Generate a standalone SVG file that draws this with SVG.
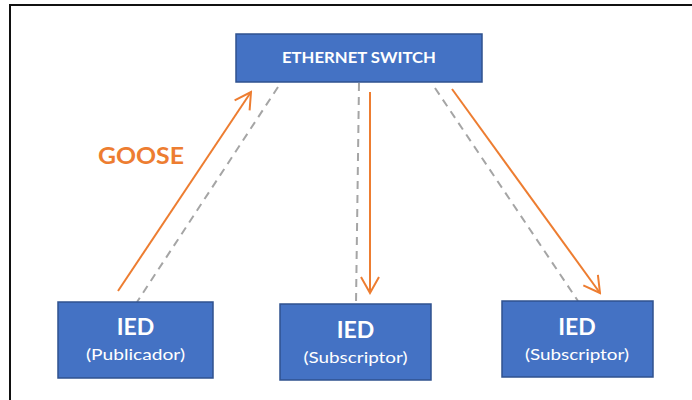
<svg xmlns="http://www.w3.org/2000/svg" width="692" height="400" viewBox="0 0 692 400">
<style>
.box{fill:#4472C4;stroke:#2F528F;stroke-width:1.5}
.t{font-family:Lato,"Open Sans","Liberation Sans",sans-serif;fill:#fff;text-anchor:middle}
.big{font-size:23px;font-weight:bold}
.small{font-size:16px}
.dash{stroke:#A5A5A5;stroke-width:2;stroke-dasharray:8,6;fill:none}
.arr{stroke:#ED7D31;stroke-width:2;fill:none;marker-end:url(#ah)}
</style>
<defs>
<marker id="ah" viewBox="0 0 20 20" refX="18" refY="10" markerWidth="20" markerHeight="20" markerUnits="userSpaceOnUse" orient="auto">
<path d="M2,1 L18,10 L2,19" fill="none" stroke="#ED7D31" stroke-width="2"/>
</marker>
</defs>
<rect width="692" height="400" fill="#fff"/>
<path d="M10,400 V5 H692" fill="none" stroke="#111" stroke-width="2"/>
<g id="connectors">
<line class="dash" x1="278" y1="87" x2="137" y2="302"/>
<line class="dash" x1="359" y1="83" x2="356" y2="304"/>
<line class="dash" x1="435" y1="88" x2="578" y2="301"/>
<line class="arr" x1="118" y1="291" x2="251" y2="92"/>
<line class="arr" x1="370" y1="92" x2="370" y2="293"/>
<line class="arr" x1="452" y1="89" x2="600" y2="293"/>
</g>
<g id="switch">
<rect class="box" x="236" y="34" width="246" height="48"/>
<text class="t" x="359" y="63" font-size="15" font-weight="bold" textLength="154" lengthAdjust="spacingAndGlyphs">ETHERNET SWITCH</text>
</g>
<g id="ied-publicador">
<rect class="box" x="58" y="302" width="155" height="76"/>
<text class="t big" x="135.5" y="335">IED</text>
<text class="t small" x="135.5" y="360" textLength="99" lengthAdjust="spacingAndGlyphs">(Publicador)</text>
</g>
<g id="ied-subscriptor-1">
<rect class="box" x="280" y="304" width="151" height="76"/>
<text class="t big" x="355.5" y="338">IED</text>
<text class="t small" x="355.5" y="363" textLength="104" lengthAdjust="spacingAndGlyphs">(Subscriptor)</text>
</g>
<g id="ied-subscriptor-2">
<rect class="box" x="502" y="301" width="151" height="76"/>
<text class="t big" x="577" y="335">IED</text>
<text class="t small" x="577" y="360" textLength="104" lengthAdjust="spacingAndGlyphs">(Subscriptor)</text>
</g>
<text x="98" y="164" font-family="Lato,'Open Sans','Liberation Sans',sans-serif" font-size="23" font-weight="bold" fill="#ED7D31" textLength="86" lengthAdjust="spacingAndGlyphs">GOOSE</text>
</svg>
